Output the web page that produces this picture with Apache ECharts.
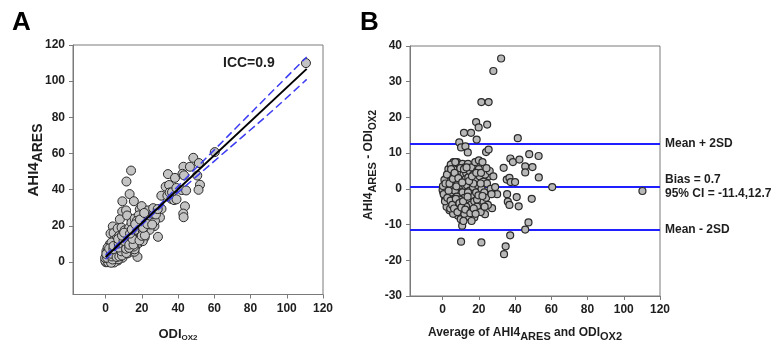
<!DOCTYPE html>
<html><head><meta charset="utf-8">
<script src="https://cdn.jsdelivr.net/npm/echarts@6/dist/echarts.min.js"></script>
<style>html,body{margin:0;padding:0;background:#fff}#c{width:779px;height:350px}</style>
</head><body><div id="c"></div>
<script>
// ---- DATA ----
// Bland-Altman points: [average, difference (AHI4 - ODI)]
const baOutliers = [[32.3,36.5],[28.0,33.0],[21.4,24.3],[25.4,24.3],[18.5,18.7],[19.9,17.2],[24.6,18.0],[11.8,15.7],[15.7,15.7],[18.8,13.8],[41.5,14.2],[9.2,13.0],[10.2,11.6],[12.6,11.9],[13.9,10.2],[24.0,10.3],[25.4,11.0],[37.4,8.5],[38.8,7.5],[42.4,8.2],[47.8,9.7],[53.0,9.2],[33.7,5.9],[45.6,6.3],[49.6,6.1],[45.6,4.6],[53.1,3.2],[35.4,2.6],[36.9,3.1],[37.6,1.9],[40.0,1.9],[60.5,0.5],[110.3,-0.6],[35.6,-1.5],[36.0,-3.6],[36.9,-4.5],[40.9,-2.3],[42.0,-4.9],[49.2,-2.8],[47.4,-9.4],[45.6,-11.4],[37.3,-13.0],[34.8,-16.1],[33.9,-18.3],[10.2,-14.8],[21.4,-15.0],[27.3,-5.4],[23.4,-7.1],[30.1,-1.5],[25.8,3.5]];
const baCluster = [[0.5,0.2],[0.8,-0.5],[1,1],[1.2,-1.2],[1.5,0.5],[1.8,2],[2,-2],[2,0],[2.5,1.5],[2.5,-0.8],[3,3],[3,-3],[3,0.8],[3.5,-1.5],[3.5,2.2],[4,4.5],[4,-4],[4,0],[4.2,1.2],[4.5,-2.5],[4.8,3.5],[5,6.5],[5,-5.5],[5,-1],[5.2,2],[5.5,-3.5],[5.5,5],[6,7.5],[6,-6.5],[6,0.5],[6.2,-2],[6.5,3],[6.8,-4.5],[7,6],[7,-1],[7.2,1.8],[7.5,-6],[7.5,4],[8,7.5],[8,-3],[8,0],[8.3,2.5],[8.5,-7.5],[8.5,5.5],[9,-1.5],[9,3.8],[9.2,-5],[9.5,6.8],[9.5,1],[10,-8.5],[10,-3.5],[10,2.5],[10.3,4.8],[10.5,-0.5],[10.8,-10.3],[11,7],[11,-6],[11.2,1.5],[11.5,-2.5],[11.5,4],[12,-4.5],[12,0.5],[12.3,6],[12.5,-8],[12.8,2.8],[13,-1.5],[13,4.5],[13.5,-6.5],[13.5,1],[14,7],[14,-3],[14.2,3.2],[14.5,-7.8],[15,-0.5],[15,5],[15.5,-4.5],[15.5,2],[16,-2],[16,6],[16.5,-6],[16.8,0.5],[17,4],[17.5,-8],[17.5,-3.5],[18,2.5],[18,7.5],[18.5,-1],[19,-5],[19,5],[19.5,1],[20,8],[20,-2.5],[20.5,3.5],[21,-6.5],[21.5,0],[22,7.5],[22.5,-3.5],[22.5,2],[23,-1],[23.5,4],[24,-2.5],[24.5,1.5],[25,-4.5],[26,5],[26.5,0],[27,-1.5],[28,3.5],[29,0.5],[2.8,-4],[3.2,5.5],[3.8,-6],[4.5,6.8],[5.8,-7],[6.5,-3],[7.8,-5],[8.8,-2],[9.8,-6.5],[3,1.8],[4,2.8],[5,3.5],[6,2],[7,3],[8,1.5],[9,0],[10,-1],[11,-1],[12,-2.5],[4.5,-1],[5.5,0.8],[6.8,-0.5],[7.8,-2.2],[8.5,-4],[9.5,-3],[2,3],[1.5,-2.8],[1,-1.8],[0.3,-0.8],[11.5,-9],[13,-5],[6,5.5],[7,7.5],[3.5,4],[2.2,-5],[4.2,-5.5],[16,-9],[12,-7],[14,-1],[17,1.5],[19,-3],[21,1.5],[20,5.5],[0,-0.3],[0.2,0.8],[0.6,-1.5],[1,2.5],[1.3,-3.5],[1.6,1.5],[2.4,4],[2.6,-2.5],[3.3,-0.5],[3.8,1.5],[4.4,-3.3],[4.7,5.5],[5.3,-4.5],[5.7,2.8],[6.3,-5.5],[6.6,4.5],[7.3,-2.8],[7.6,0.7],[8.2,-6.5],[8.7,3],[9.3,-4],[9.8,5.8],[10.4,-5.2],[10.8,1.8],[11.3,-3.5],[11.8,5.5],[12.5,-5.8],[13.2,6],[13.8,-2.2],[14.6,2.2],[15.3,-6.8],[16.2,3.5],[17.2,-5.5],[18.2,-7],[18.6,4.5],[19.8,-1.8],[21.2,4.5],[22,-2],[23.2,-5],[24.2,5.8]];
const biasValue = 0.7, upperLoA = 12.7, lowerLoA = -11.4;
// Regression line and 95% CI (panel A)
const regX = [0, 111];
const regY = [2.7, 106.8];
const ciX = [0, 15, 30, 45, 60, 75, 90, 111];
const ciUpper = [3.9, 17.6, 31.8, 47.0, 62.0, 77.2, 92.3, 113.4];
const ciLower = [1.5, 15.8, 29.8, 42.8, 55.8, 68.8, 81.8, 101.0];
const axisTicks = [0, 20, 40, 60, 80, 100, 120];

// ---- derived series ----
const baData = baOutliers.concat(baCluster);
const scatterA = baData.map(p => [p[0] - p[1] / 2, p[0] + p[1] / 2]); // [ODI, AHI4]
const regLine = regX.map((x, i) => [x, regY[i]]);
const ciUp = ciX.map((x, i) => [x, ciUpper[i]]);
const ciLo = ciX.map((x, i) => [x, ciLower[i]]);

const FONT = 'Liberation Sans, Arial, sans-serif';
const AX = '#7a7a7a', TXT = '#1e1e1e';
const labelStyle = {color: TXT, fontWeight: 'bold', fontSize: 12, fontFamily: FONT, margin: 8};

function xAx(gi, min, max) {
  return {gridIndex: gi, type: 'value', min: min, max: max, interval: 20,
    axisLine: {show: true, onZero: false, lineStyle: {color: AX}},
    axisTick: {show: true, length: 4, customValues: axisTicks, lineStyle: {color: AX}},
    axisLabel: Object.assign({customValues: axisTicks}, labelStyle),
    splitLine: {show: false}};
}

const chart = echarts.init(document.getElementById('c'), null, {renderer: 'canvas'});

const mctx = document.createElement('canvas').getContext('2d');
function w(t, size) { mctx.font = 'bold ' + size + 'px ' + FONT; return mctx.measureText(t).width; }
function composed(parts, cx, cy, rot) {
  const total = parts.reduce((s, p) => s + w(p.t, p.s), 0);
  let x = -total / 2;
  const children = parts.map(p => {
    const el = {type: 'text', x: x, y: p.dy || 0,
      style: {text: p.t, fill: TXT, font: 'bold ' + p.s + 'px ' + FONT, align: 'left', verticalAlign: 'middle'}};
    x += w(p.t, p.s);
    return el;
  });
  return {type: 'group', x: cx, y: cy, rotation: rot || 0, children: children};
}

const option = {
  animation: false,
  backgroundColor: '#fff',
  grid: [
    {left: 73, top: 45, width: 250, height: 249.5, show: true, borderColor: AX, borderWidth: 1},
    {left: 410, top: 46, width: 250, height: 250, show: true, borderColor: AX, borderWidth: 1}
  ],
  xAxis: [xAx(0, -18, 120), xAx(1, -18, 120)],
  yAxis: [
    {gridIndex: 0, type: 'value', min: -18, max: 120, interval: 20,
      axisLine: {show: true, onZero: false, lineStyle: {color: AX}},
      axisTick: {show: true, length: 4, customValues: axisTicks, lineStyle: {color: AX}},
      axisLabel: Object.assign({customValues: axisTicks}, labelStyle), splitLine: {show: false}},
    {gridIndex: 1, type: 'value', min: -30, max: 40, interval: 10,
      axisLine: {show: true, onZero: false, lineStyle: {color: AX}},
      axisTick: {show: true, length: 4, lineStyle: {color: AX}},
      axisLabel: labelStyle, splitLine: {show: false}}
  ],
  series: [
    {type: 'scatter', xAxisIndex: 0, yAxisIndex: 0, data: scatterA, symbolSize: 9, z: 2,
      itemStyle: {color: '#c4c4c4', borderColor: '#2a2a2a', borderWidth: 1, opacity: 1}},
    {type: 'line', xAxisIndex: 0, yAxisIndex: 0, data: ciUp, symbol: 'none', smooth: true, z: 3,
      lineStyle: {color: '#3c3cf2', width: 1.5, type: [8, 4]}},
    {type: 'line', xAxisIndex: 0, yAxisIndex: 0, data: ciLo, symbol: 'none', smooth: true, z: 3,
      lineStyle: {color: '#3c3cf2', width: 1.5, type: [8, 4]}},
    {type: 'line', xAxisIndex: 0, yAxisIndex: 0, data: regLine, symbol: 'none', z: 4,
      lineStyle: {color: '#000', width: 2}},
    {type: 'scatter', xAxisIndex: 1, yAxisIndex: 1, data: baData, symbolSize: 7, z: 3,
      itemStyle: {color: '#b8b8b8', borderColor: '#2a2a2a', borderWidth: 1.2, opacity: 1},
      markLine: {silent: true, symbol: 'none', animation: false, z: 2,
        lineStyle: {color: '#1f1fff', width: 2, type: 'solid'},
        data: [
          {yAxis: upperLoA, label: {show: true, position: 'end', formatter: 'Mean + 2SD', color: TXT, fontWeight: 'bold', fontSize: 12, fontFamily: FONT, distance: 5}},
          {yAxis: biasValue, label: {show: true, position: 'end', formatter: 'Bias = 0.7\n95% CI = -11.4,12.7', color: TXT, fontWeight: 'bold', fontSize: 12, fontFamily: FONT, lineHeight: 14, distance: 5}},
          {yAxis: lowerLoA, label: {show: true, position: 'end', formatter: 'Mean - 2SD', color: TXT, fontWeight: 'bold', fontSize: 12, fontFamily: FONT, distance: 5}},
          {yAxis: upperLoA, lineStyle: {opacity: 0}, label: {show: true, position: 'insideEndTop', formatter: 'Mean + 1.96SD', color: '#555', fontSize: 5, fontFamily: FONT, distance: 1}},
          {yAxis: biasValue, lineStyle: {opacity: 0}, label: {show: true, position: 'insideEndTop', formatter: 'Mean', color: '#555', fontSize: 5, fontFamily: FONT, distance: 1, padding: [0, 16, 0, 0]}},
          {yAxis: lowerLoA, lineStyle: {opacity: 0}, label: {show: true, position: 'insideEndBottom', formatter: 'Mean - 1.96SD', color: '#555', fontSize: 5, fontFamily: FONT, distance: 1}}
        ]}}
  ],
  graphic: [
    {type: 'text', left: 12, top: 10, style: {text: 'A', fill: '#000', font: 'bold 26px ' + FONT}},
    {type: 'text', left: 360, top: 10, style: {text: 'B', fill: '#000', font: 'bold 26px ' + FONT}},
    {type: 'text', left: 223, top: 56, style: {text: 'ICC=0.9', fill: TXT, font: 'bold 14px ' + FONT}},
    composed([{t: 'ODI', s: 13}, {t: 'OX2', s: 8, dy: 4}], 178, 334),
    composed([{t: 'AHI4', s: 15}, {t: 'ARES', s: 14, dy: 4}], 34, 160, Math.PI / 2),
    composed([{t: 'Average of AHI4', s: 12}, {t: 'ARES', s: 11, dy: 4}, {t: ' and ODI', s: 12}, {t: 'OX2', s: 11, dy: 4}], 525, 333),
    composed([{t: 'AHI4', s: 12}, {t: 'ARES', s: 11, dy: 4}, {t: ' - ODI', s: 12}, {t: 'OX2', s: 10, dy: 4}], 369, 165, Math.PI / 2)
  ]
};
chart.setOption(option);
</script></body></html>
